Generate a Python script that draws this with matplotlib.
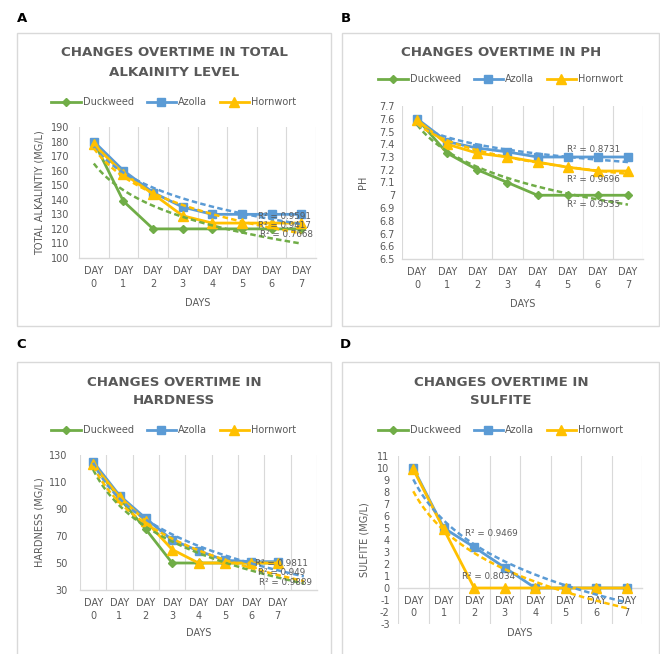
import matplotlib
matplotlib.use("Agg")
import matplotlib.pyplot as plt
import numpy as np
from matplotlib.patches import Rectangle
from matplotlib.lines import Line2D

plt.rcParams['font.family'] = 'DejaVu Sans'

W, H = 660, 654

GREEN = '#70AD47'
BLUE = '#5B9BD5'
GOLD = '#FFC000'
GRAY = '#595959'
GRID = '#D9D9D9'

# category labels
day_labels = ["DAY\n0", "DAY\n1", "DAY\n2", "DAY\n3", "DAY\n4", "DAY\n5", "DAY\n6", "DAY\n7"]
series_names = ["Duckweed", "Azolla", "Hornwort"]

# A - total alkalinity (mg/L)
alk_duckweed = [180, 139, 120, 120, 120, 120, 120, 120]
alk_azolla = [180, 160, 145, 135, 130, 130, 130, 130]
alk_hornwort = [178, 158, 144, 129, 124, 124, 124, 124]
alk_r2 = ["0.9591", "0.9417", "0.7668"]

# B - pH
ph_duckweed = [7.6, 7.33, 7.2, 7.1, 7.0, 7.0, 7.0, 7.0]
ph_azolla = [7.6, 7.42, 7.37, 7.34, 7.3, 7.3, 7.3, 7.3]
ph_hornwort = [7.59, 7.4, 7.33, 7.3, 7.26, 7.22, 7.19, 7.19]
ph_r2 = ["0.8731", "0.9696", "0.9535"]

# C - hardness (mg/L)
hard_duckweed = [123, 98, 75, 50, 50, 50, 50, 50]
hard_azolla = [125, 100, 83, 67, 59, 52, 51, 51]
hard_hornwort = [123, 99, 81, 60, 50, 50, 50, 50]
hard_r2 = ["0.9811", "0.949", "0.9889"]

# D - sulfite (mg/L), no duckweed readings
sulf_duckweed = []
sulf_azolla = [10, 5, 3.4, 1.7, 0, 0, 0, 0]
sulf_hornwort = [9.9, 4.9, 0, 0, 0, 0, 0, 0]
sulf_r2 = ["0.9469", "0.8034"]

STYLE = {
    "Duckweed": dict(color=GREEN, marker='D', ms=4),
    "Azolla": dict(color=BLUE, marker='s', ms=5.8),
    "Hornwort": dict(color=GOLD, marker='^', ms=6.5),
}


def frac_rect(l, t, r, b):
    return [l / W, 1 - b / H, (r - l) / W, (b - t) / H]


def log_trend(ax, vals, color, n_out):
    # excel style logarithmic trendline y = a*ln(x) + b, x = 1..n
    x = np.arange(1, len(vals) + 1)
    a, b = np.polyfit(np.log(x), vals, 1)
    t = np.linspace(1, n_out, 200)
    ax.plot(t - 1, a * np.log(t) + b, color=color, lw=1.8,
            linestyle=(0, (2.2, 1.3)), zorder=4)


def panel(box, axpx, letter, letter_xy, title, title_y, legend_y, cx,
          data, ylim, yticks, yticklabels, ylabel, ylabel_x, xlabel_y,
          n_cat=8, trend_to=8, r2=None, zero_axis=False, ypad=6,
          tick_pad=5.5, linesp=1.45):
    fig.add_artist(Rectangle((box[0] / W, 1 - box[3] / H),
                             (box[2] - box[0]) / W, (box[3] - box[1]) / H,
                             transform=fig.transFigure, fill=False,
                             ec=GRID, lw=1))
    fig.text(letter_xy[0] / W, 1 - letter_xy[1] / H, letter, fontsize=9.5,
             fontweight='bold', ha='center', va='center', color='black')
    for i, line in enumerate(title):
        fig.text(cx / W, 1 - title_y[i] / H, line, fontsize=9.6,
                 fontweight='bold', color=GRAY, ha='center', va='center')

    ax = fig.add_axes(frac_rect(*axpx))
    # moving the spine resets the tick setup, so do it first
    if zero_axis:
        ax.spines['bottom'].set_position(('data', 0))
    for name, vals in zip(series_names, data):
        if len(vals) == 0:
            continue
        st = STYLE[name]
        ax.plot(range(len(vals)), vals, color=st['color'], lw=2,
                marker=st['marker'], ms=st['ms'], zorder=3)
    for name, vals in zip(series_names, data):
        if len(vals) == 0:
            continue
        log_trend(ax, vals, STYLE[name]['color'], trend_to)

    ax.set_xlim(-0.5, n_cat - 0.5)
    ax.set_ylim(*ylim)
    ax.set_xticks(range(len(day_labels)))
    ax.set_xticklabels(day_labels, fontsize=7, color=GRAY, linespacing=linesp)
    ax.set_xticks(np.arange(-0.5, n_cat), minor=True)
    ax.grid(which='minor', axis='x', color=GRID, lw=0.8)
    ax.tick_params(axis='x', which='both', length=0, pad=tick_pad)
    ax.set_yticks(yticks)
    ax.set_yticklabels(yticklabels, fontsize=7, color=GRAY)
    ax.tick_params(axis='y', length=0, pad=ypad)
    for s in ['top', 'right', 'left']:
        ax.spines[s].set_visible(False)
    ax.spines['bottom'].set_color(GRID)
    ax.spines['bottom'].set_linewidth(1)

    if r2:
        for (x, y), txt in r2:
            ax.text(x, y, "R² = " + txt, fontsize=6.3, color=GRAY,
                    ha='center', va='center', zorder=5)

    handles = [Line2D([], [], color=STYLE[n]['color'], lw=2,
                      marker=STYLE[n]['marker'], ms=STYLE[n]['ms'])
               for n in series_names]
    fig.legend(handles, series_names, loc='center',
               bbox_to_anchor=(cx / W, 1 - legend_y / H), ncol=3,
               frameon=False, fontsize=7, labelcolor=GRAY, handlelength=3.0,
               handletextpad=0.25, columnspacing=1.3, borderpad=0)

    mid_y = (axpx[1] + axpx[3]) / 2
    fig.text(ylabel_x / W, 1 - mid_y / H, ylabel, rotation=90, fontsize=7,
             color=GRAY, ha='center', va='center')
    fig.text((axpx[0] + axpx[2]) / 2 / W, 1 - xlabel_y / H, "DAYS",
             fontsize=7, color=GRAY, ha='center', va='center')
    return ax


fig = plt.figure(figsize=(W / 100, H / 100), dpi=100)

panel((17, 33, 331, 326), (79, 127, 316, 258), "A", (22, 19),
      ["CHANGES OVERTIME IN TOTAL", "ALKAINITY LEVEL"], [53, 73], 102, 174,
      [alk_duckweed, alk_azolla, alk_hornwort], (100, 190),
      list(range(100, 191, 10)), [str(v) for v in range(100, 191, 10)],
      "TOTAL ALKALINTIY (MG/L)", 40, 303,
      r2=[((6.43, 128.5), alk_r2[0]), ((6.45, 122), alk_r2[1]),
          ((6.51, 116), alk_r2[2])], ypad=7)

ph_ticks = [round(6.5 + 0.1 * i, 1) for i in range(13)]
panel((342, 33, 659, 326), (402, 106, 643, 259), "B", (346, 18),
      ["CHANGES OVERTIME IN PH"], [52], 79, 501,
      [ph_duckweed, ph_azolla, ph_hornwort], (6.5, 7.7),
      ph_ticks, ["7" if v == 7.0 else str(v) for v in ph_ticks],
      "PH", 363, 304,
      r2=[((5.86, 7.355), ph_r2[0]), ((5.86, 7.12), ph_r2[1]),
          ((5.86, 6.93), ph_r2[2])], ypad=5)

panel((17, 362, 331, 680), (80, 455, 317, 590), "C", (21, 345),
      ["CHANGES OVERTIME IN", "HARDNESS"], [382, 400], 430, 174,
      [hard_duckweed, hard_azolla, hard_hornwort], (30, 130),
      list(range(30, 131, 20)), [str(v) for v in range(30, 131, 20)],
      "HARDNESS (MG/L)", 40, 633, n_cat=9, trend_to=9,
      r2=[((7.15, 50), hard_r2[0]), ((7.17, 42.6), hard_r2[1]),
          ((7.32, 35.2), hard_r2[2])], ypad=9, tick_pad=6, linesp=1.35)

panel((342, 362, 659, 680), (398, 456, 642, 624), "D", (345, 345),
      ["CHANGES OVERTIME IN", "SULFITE"], [382, 400], 430, 501,
      [sulf_duckweed, sulf_azolla, sulf_hornwort], (-3, 11),
      list(range(-3, 12)), [str(v) for v in range(-3, 12)],
      "SULFITE (MG/L)", 365, 633, zero_axis=True,
      r2=[((2.55, 4.58), sulf_r2[0]), ((2.48, 0.92), sulf_r2[1])],
      ypad=6, linesp=1.3)

fig.savefig("out.png", dpi=100)
